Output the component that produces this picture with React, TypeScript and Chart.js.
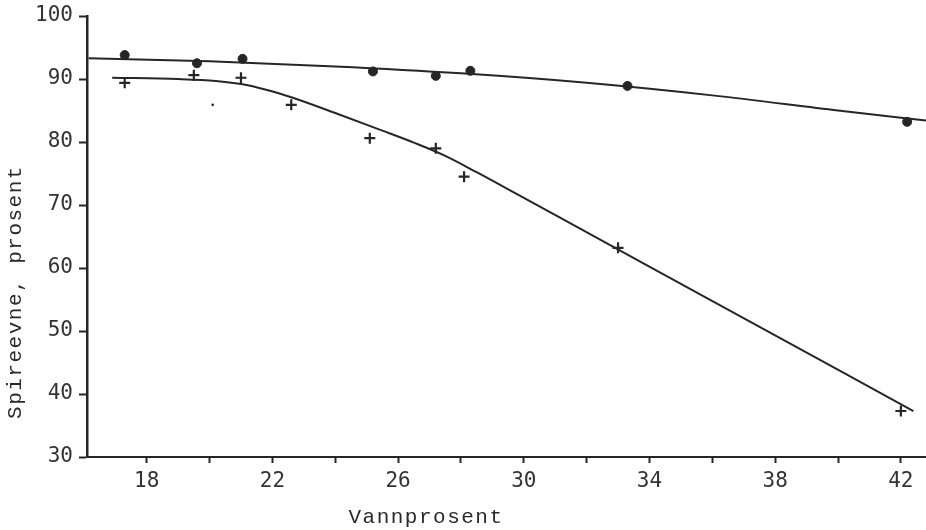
import React, { useEffect, useRef } from "react";
import { Chart, registerables } from "chart.js";

Chart.register(...registerables);

// Measured points: "dots" series (upper)
const dotX = [17.3, 19.6, 21.05, 25.2, 27.2, 28.3, 33.3, 42.2];
const dotY = [93.8, 92.5, 93.2, 91.2, 90.5, 91.3, 88.9, 83.2];

// Measured points: "crosses" series (lower)
const crossX = [17.3, 19.5, 21.0, 22.6, 25.1, 27.2, 28.1, 33.0, 42.0];
const crossY = [89.4, 90.6, 90.2, 85.9, 80.6, 79.0, 74.5, 63.2, 37.3];

// Stray mark on the sheet
const strayX = [20.1];
const strayY = [85.9];

// Hand-drawn fitted curves
const upperCurveX = [16.15, 20, 24, 28, 32, 36, 40, 42.8];
const upperCurveY = [93.3, 92.8, 92.0, 90.9, 89.4, 87.4, 85.0, 83.4];

const lowerCurveX = [16.9, 19.0, 20.2, 21.0, 21.8, 22.6, 24.0, 25.5, 26.5, 27.5, 28.5, 29.9, 31.3, 35.8, 42.4];
const lowerCurveY = [90.2, 90.0, 89.7, 89.2, 88.3, 87.1, 84.6, 81.8, 79.9, 77.8, 75.2, 71.4, 67.6, 55.3, 37.3];

// Axis ticks
const xTickValues = [18, 20, 22, 24, 26, 28, 30, 32, 34, 36, 38, 40, 42];
const xLabelValues = [18, 22, 26, 30, 34, 38, 42];
const yTickValues = [30, 40, 50, 60, 70, 80, 90, 100];

const xTitle = "Vannprosent";
const yTitle = "Spireevne, prosent";

const pts = (xs: number[], ys: number[]) => xs.map((x, i) => ({ x, y: ys[i] }));

const INK = "#262626";

const axisTitlePlugin = {
  id: "axisTitles",
  afterDraw(chart: any) {
    const ctx = chart.ctx;
    ctx.save();
    ctx.fillStyle = "#2a2a2a";
    ctx.font = "21px 'Liberation Mono', 'DejaVu Sans Mono', monospace";
    try { (ctx as any).letterSpacing = "1.5px"; } catch (e) {}
    ctx.textAlign = "center";
    ctx.textBaseline = "middle";
    ctx.fillText(xTitle, 426, 517);
    ctx.translate(15, 292);
    ctx.rotate(-Math.PI / 2);
    ctx.fillText(yTitle, 0, 0);
    ctx.restore();
  },
};

export default function App() {
  const ref = useRef<HTMLCanvasElement | null>(null);

  useEffect(() => {
    if (!ref.current) return;
    const tickFont = { family: "'DejaVu Sans Mono', monospace", size: 21 };
    const chart = new Chart(ref.current, {
      type: "scatter",
      data: {
        datasets: [
          {
            label: "upper curve",
            type: "line",
            data: pts(upperCurveX, upperCurveY),
            borderColor: INK,
            borderWidth: 2,
            pointRadius: 0,
            cubicInterpolationMode: "monotone",
            fill: false,
          },
          {
            label: "lower curve",
            type: "line",
            data: pts(lowerCurveX, lowerCurveY),
            borderColor: INK,
            borderWidth: 2,
            pointRadius: 0,
            cubicInterpolationMode: "monotone",
            fill: false,
          },
          {
            label: "dots",
            data: pts(dotX, dotY),
            pointStyle: "circle",
            pointRadius: 4.5,
            backgroundColor: INK,
            borderColor: INK,
            borderWidth: 1,
          },
          {
            label: "crosses",
            data: pts(crossX, crossY),
            pointStyle: "cross",
            pointRadius: 5.5,
            borderColor: INK,
            borderWidth: 2.2,
          },
          {
            label: "stray",
            data: pts(strayX, strayY),
            pointStyle: "circle",
            pointRadius: 1.3,
            backgroundColor: INK,
            borderColor: INK,
            borderWidth: 0,
          },
        ],
      } as any,
      options: {
        animation: false,
        responsive: false,
        maintainAspectRatio: false,
        devicePixelRatio: 1,
        layout: { autoPadding: false, padding: { top: 16, right: 0, left: 0, bottom: 0 } },
        plugins: {
          legend: { display: false },
          tooltip: { enabled: false },
        },
        scales: {
          x: {
            type: "linear",
            min: 16.1,
            max: 42.8,
            afterBuildTicks: (scale: any) => {
              scale.ticks = xTickValues.map((v) => ({ value: v }));
            },
            afterFit: (scale: any) => {
              scale.height = 73;
              scale.paddingLeft = 0;
              scale.paddingRight = 0;
            },
            ticks: {
              autoSkip: false,
              maxRotation: 0,
              padding: 6,
              color: "#333",
              font: tickFont,
              callback: (v: any) => (xLabelValues.includes(Number(v)) ? String(v) : ""),
            },
            grid: {
              drawOnChartArea: false,
              drawTicks: true,
              tickLength: 6,
              tickColor: INK,
              tickWidth: 2,
            },
            border: { display: true, color: INK, width: 2 },
            title: { display: false },
          },
          y: {
            type: "linear",
            min: 30,
            max: 100,
            afterBuildTicks: (scale: any) => {
              scale.ticks = yTickValues.map((v) => ({ value: v }));
            },
            afterFit: (scale: any) => {
              scale.width = 87;
              scale.paddingTop = 0;
              scale.paddingBottom = 0;
            },
            ticks: {
              autoSkip: false,
              padding: 6,
              color: "#333",
              font: tickFont,
            },
            grid: {
              drawOnChartArea: false,
              drawTicks: true,
              tickLength: 8,
              tickColor: INK,
              tickWidth: 2,
            },
            border: { display: true, color: INK, width: 2.5 },
            title: { display: false },
          },
        },
      },
      plugins: [axisTitlePlugin],
    });
    return () => chart.destroy();
  }, []);

  return (
    <div style={{ position: "absolute", left: 0, top: 0, width: 926, height: 530, background: "#fff" }}>
      <canvas ref={ref} width={926} height={530} style={{ display: "block", width: 926, height: 530 }} />
    </div>
  );
}
